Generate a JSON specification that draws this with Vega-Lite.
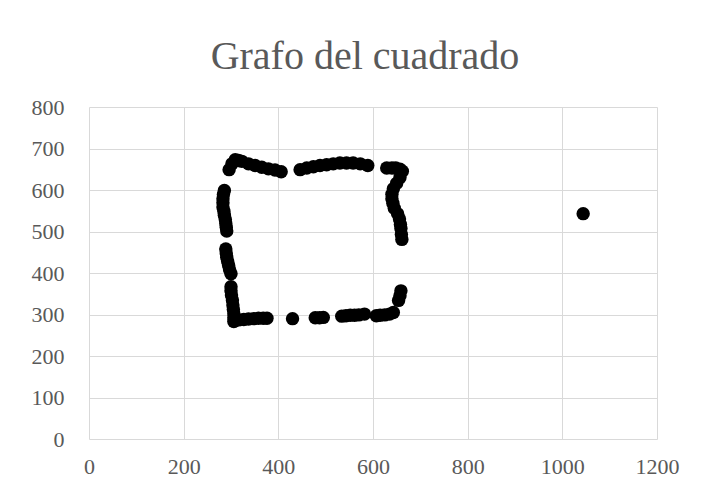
{
  "$schema": "https://vega.github.io/schema/vega-lite/v6.json",
  "autosize": "none",
  "padding": {"left": 89, "top": 107, "right": 45, "bottom": 53},
  "width": 568,
  "height": 332,
  "background": "white",
  "config": {"view": {"stroke": null}},
  "title": {
    "text": "Grafo del cuadrado",
    "font": "Liberation Serif",
    "fontSize": 40,
    "fontWeight": "normal",
    "color": "#595959",
    "anchor": "middle",
    "baseline": "alphabetic",
    "dx": -8,
    "dy": 50,
    "offset": 37
  },
  "data": {
    "values": [
      {"x": 296, "y": 649}, {"x": 302, "y": 663}, {"x": 309, "y": 673}, {"x": 316, "y": 671}, {"x": 323, "y": 669},
      {"x": 337, "y": 663}, {"x": 351, "y": 659}, {"x": 365, "y": 655}, {"x": 379, "y": 651}, {"x": 393, "y": 648}, {"x": 406, "y": 644},
      {"x": 446, "y": 649}, {"x": 460, "y": 653}, {"x": 474, "y": 656}, {"x": 488, "y": 659}, {"x": 502, "y": 661},
      {"x": 516, "y": 663}, {"x": 530, "y": 665}, {"x": 544, "y": 665}, {"x": 558, "y": 665}, {"x": 573, "y": 663}, {"x": 589, "y": 659},
      {"x": 629, "y": 653}, {"x": 640, "y": 653}, {"x": 648, "y": 653}, {"x": 657, "y": 650}, {"x": 662, "y": 645},
      {"x": 657, "y": 630}, {"x": 650, "y": 616}, {"x": 643, "y": 603}, {"x": 640, "y": 590}, {"x": 640, "y": 579},
      {"x": 642, "y": 568}, {"x": 645, "y": 556}, {"x": 652, "y": 543}, {"x": 656, "y": 530}, {"x": 658, "y": 517},
      {"x": 659, "y": 507}, {"x": 660, "y": 493}, {"x": 661, "y": 481},
      {"x": 659, "y": 357}, {"x": 657, "y": 345}, {"x": 654, "y": 334},
      {"x": 643, "y": 305}, {"x": 635, "y": 301}, {"x": 625, "y": 299}, {"x": 615, "y": 298}, {"x": 607, "y": 297},
      {"x": 534, "y": 296}, {"x": 543, "y": 297}, {"x": 552, "y": 298}, {"x": 561, "y": 298}, {"x": 570, "y": 299}, {"x": 582, "y": 301},
      {"x": 478, "y": 292}, {"x": 487, "y": 292}, {"x": 495, "y": 293},
      {"x": 430, "y": 290},
      {"x": 306, "y": 283}, {"x": 316, "y": 287}, {"x": 327, "y": 288}, {"x": 337, "y": 289}, {"x": 348, "y": 290},
      {"x": 358, "y": 291}, {"x": 368, "y": 291}, {"x": 376, "y": 291},
      {"x": 300, "y": 367}, {"x": 300, "y": 357}, {"x": 301, "y": 347}, {"x": 303, "y": 335}, {"x": 304, "y": 323},
      {"x": 305, "y": 312}, {"x": 306, "y": 302}, {"x": 306, "y": 292},
      {"x": 289, "y": 458}, {"x": 290, "y": 448}, {"x": 291, "y": 438}, {"x": 293, "y": 428}, {"x": 295, "y": 418},
      {"x": 297, "y": 408}, {"x": 300, "y": 398},
      {"x": 286, "y": 599}, {"x": 284, "y": 589}, {"x": 283, "y": 579}, {"x": 283, "y": 569}, {"x": 283, "y": 559},
      {"x": 285, "y": 549}, {"x": 286, "y": 539}, {"x": 288, "y": 529}, {"x": 289, "y": 519}, {"x": 290, "y": 510}, {"x": 291, "y": 501},
      {"x": 1044, "y": 543}
    ]
  },
  "mark": {"type": "point", "shape": "circle", "filled": true, "size": 180, "color": "#000000", "opacity": 1},
  "encoding": {
    "x": {
      "field": "x",
      "type": "quantitative",
      "scale": {"domain": [0, 1200], "nice": false, "zero": false},
      "axis": {
        "title": null,
        "values": [0, 200, 400, 600, 800, 1000, 1200],
        "format": "d",
        "labelFlush": false,
        "grid": true,
        "gridColor": "#d9d9d9",
        "gridWidth": 1,
        "domain": false,
        "ticks": false,
        "labelFont": "Liberation Serif",
        "labelFontSize": 22,
        "labelColor": "#595959",
        "labelPadding": 17
      }
    },
    "y": {
      "field": "y",
      "type": "quantitative",
      "scale": {"domain": [0, 800], "nice": false, "zero": false},
      "axis": {
        "title": null,
        "values": [0, 100, 200, 300, 400, 500, 600, 700, 800],
        "format": "d",
        "labelFlush": false,
        "grid": true,
        "gridColor": "#d9d9d9",
        "gridWidth": 1,
        "domain": false,
        "ticks": false,
        "labelFont": "Liberation Serif",
        "labelFontSize": 22,
        "labelColor": "#595959",
        "labelPadding": 25
      }
    }
  }
}
